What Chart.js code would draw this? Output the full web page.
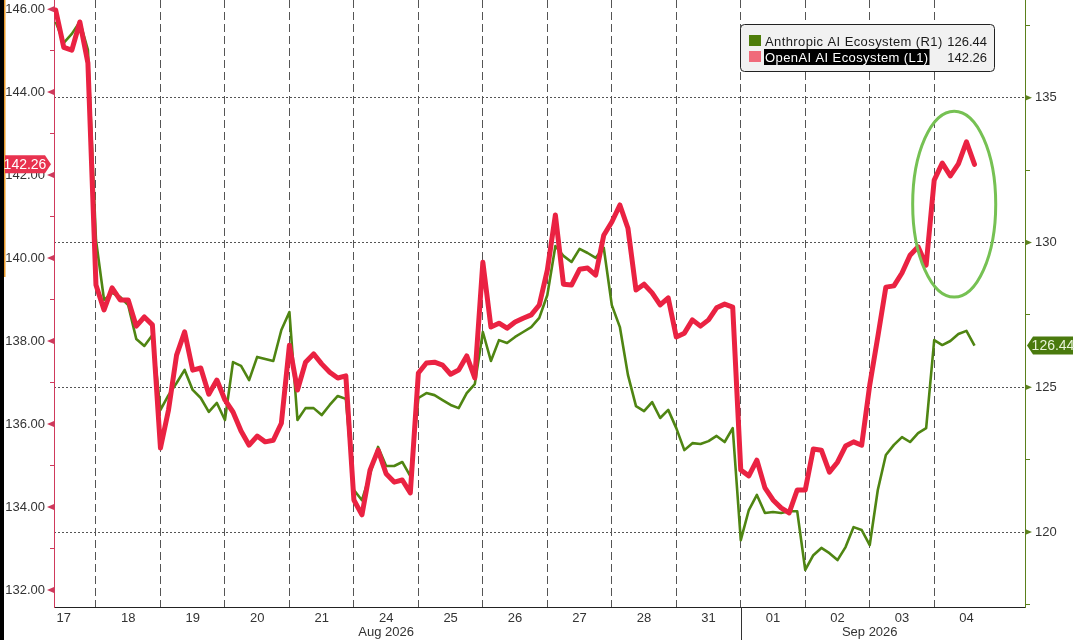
<!DOCTYPE html>
<html>
<head>
<meta charset="utf-8">
<title>OpenAI vs Anthropic AI Ecosystem</title>
<script src="https://cdn.jsdelivr.net/npm/chart.js@4.4.1/dist/chart.umd.min.js"></script>
<style>
    html, body { margin: 0; padding: 0; background: #fff; }
    .chart-wrap { position: relative; width: 1074px; height: 640px; }
</style>
</head>
<body>
<div class="chart-wrap"><canvas id="ecosystemChart"></canvas></div>
<script>
// sessions on the x axis, one unit per trading day
const dayLabels = ['17', '18', '19', '20', '21', '24', '25', '26', '27', '28', '31', '01', '02', '03', '04']
const monthLabels = ['Aug 2026', 'Sep 2026']
const leftTicks = [132, 133, 134, 135, 136, 137, 138, 139, 140, 141, 142, 143, 144, 145, 146]
const rightTicks = [117.5, 120, 122.5, 125, 127.5, 130, 132.5, 135, 137.5]
const seriesNames = ['Anthropic AI Ecosystem (R1)', 'OpenAI AI Ecosystem (L1)']

// 8 readings per session, first reading 3/8 into the 17th
const pointsPerDay = 8
const firstSlot = 3
const openai = [
    145.98, 145.08, 145.01, 145.69, 144.70,
    139.35, 138.75, 139.28, 138.99, 138.99, 138.36, 138.58, 138.39,
    135.42, 136.34, 137.66, 138.22, 137.30, 137.35, 136.72, 137.06,
    136.58, 136.29, 135.83, 135.49, 135.71, 135.57, 135.61, 136.02,
    137.90, 136.82, 137.49, 137.69, 137.45, 137.25, 137.11, 137.16,
    134.17, 133.81, 134.89, 135.37, 134.80, 134.60, 134.65, 134.34,
    137.23, 137.47, 137.49, 137.42, 137.20, 137.30, 137.64, 137.11,
    139.90, 138.34, 138.43, 138.31, 138.46, 138.55, 138.63, 138.87,
    139.71, 141.04, 139.37, 139.35, 139.73, 139.76, 139.59, 140.55,
    140.87, 141.28, 140.72, 139.23, 139.37, 139.16, 138.87, 139.04,
    138.10, 138.19, 138.51, 138.36, 138.51, 138.80, 138.89, 138.82,
    134.89, 134.75, 135.13, 134.46, 134.17, 133.98, 133.86, 134.41,
    134.41, 135.40, 135.37, 134.84, 135.08, 135.47, 135.57, 135.49,
    136.94, 138.10, 139.30, 139.33, 139.64, 140.07, 140.27, 139.83,
    141.88, 142.29, 141.98, 142.27, 142.80, 142.26
]
const anthropic = [
    137.63, 136.90, 137.21, 137.63, 136.66,
    130.09, 128.02, 128.26, 128.12, 127.84, 126.67, 126.43, 126.81,
    124.22, 124.73, 125.15, 125.60, 124.91, 124.63, 124.15, 124.46,
    123.87, 125.87, 125.74, 125.25, 126.05, 125.98, 125.91, 126.98,
    127.60, 123.87, 124.28, 124.28, 124.04, 124.39, 124.70, 124.60,
    121.45, 121.10, 122.00, 122.94, 122.28, 122.28, 122.42, 121.93,
    124.63, 124.80, 124.73, 124.56, 124.39, 124.28, 124.80, 125.11,
    126.91, 125.91, 126.63, 126.53, 126.74, 126.91, 127.08, 127.40,
    128.19, 129.88, 129.54, 129.33, 129.78, 129.64, 129.47, 129.82,
    127.84, 127.08, 125.43, 124.35, 124.18, 124.49, 123.94, 124.22,
    123.59, 122.83, 123.07, 123.04, 123.14, 123.32, 123.11, 123.59,
    119.72, 120.76, 121.28, 120.66, 120.69, 120.66, 120.72, 120.72,
    118.69, 119.20, 119.45, 119.27, 119.03, 119.48, 120.17, 120.07,
    119.55, 121.45, 122.66, 123.01, 123.28, 123.11, 123.42, 123.59,
    126.63, 126.46, 126.60, 126.84, 126.95, 126.44
]

const RED = '#ea2242'
const GREEN = '#4f8512'
const LEFT_AXIS = '#cf3a5c'
const RIGHT_AXIS = '#5b801c'
const FONT = '"Liberation Sans", Arial, sans-serif'
const X_MIN = 0.349
const X_MAX = 15.408

Chart.defaults.font.family = FONT
Chart.defaults.color = '#333'

function toPoints(values) {
    return values.map((v, i) => ({ x: (firstSlot + i) / pointsPerDay, y: v }))
}

function drawTag(ctx, text, tipX, y, dir, fill, textColor) {
    // dir 1 = tip on the right, -1 = tip on the left
    const h = 18, body = 40, tip = 6
    const baseX = tipX - dir * tip
    const farX = baseX - dir * body
    ctx.fillStyle = fill
    ctx.beginPath()
    ctx.moveTo(tipX, y)
    ctx.lineTo(baseX, y - h / 2)
    ctx.lineTo(farX, y - h / 2)
    ctx.lineTo(farX, y + h / 2)
    ctx.lineTo(baseX, y + h / 2)
    ctx.closePath()
    ctx.fill()
    ctx.fillStyle = textColor
    ctx.font = '14px ' + FONT
    ctx.textBaseline = 'middle'
    ctx.textAlign = 'center'
    ctx.fillText(text, (baseX + farX) / 2, y + 1)
}

const decorations = {
    id: 'decorations',
    afterDraw(chart) {
        const ctx = chart.ctx
        const { x, yL, yR } = chart.scales
        const area = chart.chartArea
        ctx.save()

        // window edge
        ctx.fillStyle = '#000'
        ctx.fillRect(0, 0, 4, chart.height)
        ctx.fillStyle = '#e89a2c'
        ctx.fillRect(4, 0, 1.5, 277)

        // axis markers
        ctx.fillStyle = LEFT_AXIS
        leftTicks.filter(v => v % 2 === 0).forEach(v => {
            const py = yL.getPixelForValue(v)
            ctx.beginPath()
            ctx.moveTo(area.left - 7, py)
            ctx.lineTo(area.left, py - 3)
            ctx.lineTo(area.left, py + 3)
            ctx.fill()
        })
        ctx.fillStyle = RIGHT_AXIS
        rightTicks.filter(v => v % 5 === 0).forEach(v => {
            const py = yR.getPixelForValue(v)
            ctx.beginPath()
            ctx.moveTo(area.right + 7, py)
            ctx.lineTo(area.right, py - 3)
            ctx.lineTo(area.right, py + 3)
            ctx.fill()
        })

        // month row
        const monthStart = x.getPixelForValue(dayLabels.indexOf('01'))
        ctx.strokeStyle = '#333'
        ctx.lineWidth = 1
        ctx.beginPath()
        ctx.moveTo(Math.round(monthStart) + 0.5, area.bottom)
        ctx.lineTo(Math.round(monthStart) + 0.5, chart.height)
        ctx.stroke()
        ctx.fillStyle = '#333'
        ctx.font = '13px ' + FONT
        ctx.textAlign = 'center'
        ctx.textBaseline = 'middle'
        ctx.fillText(monthLabels[0], x.getPixelForValue(dayLabels.indexOf('24') + 0.5), 632)
        ctx.fillText(monthLabels[1], x.getPixelForValue(dayLabels.indexOf('03')), 632)

        // highlight ring round the last session
        const cx = x.getPixelForValue(14.31)
        const cy = yL.getPixelForValue(141.3)
        const rx = x.getPixelForValue(14.31 + 0.644) - cx
        const ry = yL.getPixelForValue(141.3 - 2.24) - cy
        ctx.strokeStyle = '#76c153'
        ctx.lineWidth = 3
        ctx.beginPath()
        ctx.ellipse(cx, cy, rx, ry, 0, 0, Math.PI * 2)
        ctx.stroke()

        // last value tags
        const lastRed = openai[openai.length - 1]
        const lastGreen = anthropic[anthropic.length - 1]
        drawTag(ctx, lastRed.toFixed(2), 51, yL.getPixelForValue(lastRed), 1, '#e8324f', '#fff')
        drawTag(ctx, lastGreen.toFixed(2), area.right + 2, yR.getPixelForValue(lastGreen), -1, '#4a7a0e', '#e8f3d8')

        // legend box
        ctx.fillStyle = '#f1f1f1'
        ctx.strokeStyle = '#222'
        ctx.lineWidth = 1
        ctx.beginPath()
        ctx.roundRect(740.5, 24.5, 254, 47, 4)
        ctx.fill()
        ctx.stroke()
        ctx.font = '13px ' + FONT
        ctx.textBaseline = 'middle'
        const rows = [
            { name: seriesNames[0], value: lastGreen, swatch: '#4e7d0a', y: 41, selected: false },
            { name: seriesNames[1], value: lastRed, swatch: '#f06a7a', y: 57, selected: true }
        ]
        rows.forEach(r => {
            ctx.fillStyle = r.swatch
            ctx.fillRect(749, r.y - 6, 12, 11)
            ctx.letterSpacing = '0.4px'
            const w = ctx.measureText(r.name).width
            if (r.selected) {
                ctx.fillStyle = '#000'
                ctx.fillRect(764, r.y - 8, w + 2, 16)
            }
            ctx.fillStyle = r.selected ? '#fff' : '#1a1a1a'
            ctx.textAlign = 'left'
            ctx.fillText(r.name, 765, r.y + 1)
            ctx.letterSpacing = '0px'
            ctx.fillStyle = '#1a1a1a'
            ctx.textAlign = 'right'
            ctx.fillText(r.value.toFixed(2), 987, r.y + 1)
        })
        ctx.restore()
    }
}

const chartConfig = {
    type: 'line',
    data: {
        datasets: [
            {
                label: seriesNames[1],
                data: toPoints(openai),
                xAxisID: 'x',
                yAxisID: 'yL',
                borderColor: RED,
                borderWidth: 5,
                borderJoinStyle: 'round',
                borderCapStyle: 'round',
                pointRadius: 0,
                tension: 0
            },
            {
                label: seriesNames[0],
                data: toPoints(anthropic),
                xAxisID: 'x',
                yAxisID: 'yR',
                borderColor: GREEN,
                borderWidth: 2.6,
                borderJoinStyle: 'round',
                pointRadius: 0,
                tension: 0
            }
        ]
    },
    options: {
        responsive: true,
        maintainAspectRatio: false,
        animation: false,
        events: [],
        layout: { padding: 0 },
        plugins: {
            legend: { display: false },
            title: { display: false },
            tooltip: { enabled: false }
        },
        scales: {
            x: {
                type: 'linear',
                position: 'bottom',
                min: X_MIN,
                max: X_MAX,
                bounds: 'data',
                afterBuildTicks: scale => { scale.ticks = dayLabels.map((d, i) => ({ value: i + 0.5 })) },
                ticks: {
                    callback: v => dayLabels[Math.floor(v)],
                    autoSkip: false,
                    maxRotation: 0,
                    padding: 4,
                    color: '#333',
                    font: { size: 13 }
                },
                grid: { drawOnChartArea: false, drawTicks: false },
                border: { color: '#222', width: 1 },
                afterFit: scale => { scale.height = 33; scale.paddingLeft = 0; scale.paddingRight = 0 }
            },
            days: {
                type: 'linear',
                position: 'top',
                min: X_MIN,
                max: X_MAX,
                bounds: 'data',
                afterBuildTicks: scale => { scale.ticks = dayLabels.slice(1).map((d, i) => ({ value: i + 1 })) },
                ticks: { display: false },
                grid: { color: '#555', lineWidth: 1, drawTicks: false },
                border: { display: false, dash: [8, 4] },
                afterFit: scale => { scale.height = 0; scale.paddingLeft = 0; scale.paddingRight = 0 }
            },
            yL: {
                type: 'linear',
                position: 'left',
                min: 131.59,
                max: 146.22,
                bounds: 'data',
                afterBuildTicks: scale => { scale.ticks = leftTicks.map(v => ({ value: v })) },
                ticks: {
                    callback: v => v % 2 === 0 ? v.toFixed(2) : '',
                    autoSkip: false,
                    padding: 5,
                    color: '#333',
                    font: { size: 13 }
                },
                grid: { drawOnChartArea: false, tickLength: 4, tickColor: LEFT_AXIS },
                border: { color: LEFT_AXIS, width: 1 },
                afterFit: scale => { scale.width = 54; scale.paddingTop = 0; scale.paddingBottom = 0 }
            },
            yR: {
                type: 'linear',
                position: 'right',
                min: 117.41,
                max: 138.38,
                bounds: 'data',
                afterBuildTicks: scale => { scale.ticks = rightTicks.map(v => ({ value: v })) },
                ticks: {
                    callback: v => v % 5 === 0 ? String(v) : '',
                    autoSkip: false,
                    padding: 5,
                    color: '#333',
                    font: { size: 13 }
                },
                grid: {
                    color: c => c.tick && c.tick.value % 5 === 0 ? '#555' : 'rgba(0,0,0,0)',
                    lineWidth: 1,
                    tickLength: 5,
                    tickColor: RIGHT_AXIS
                },
                border: { color: RIGHT_AXIS, width: 1, dash: [2, 2] },
                afterFit: scale => { scale.width = 49; scale.paddingTop = 0; scale.paddingBottom = 0 }
            }
        }
    },
    plugins: [decorations]
}

const ecosystemChart = new Chart(document.getElementById('ecosystemChart'), chartConfig)
</script>
</body>
</html>
